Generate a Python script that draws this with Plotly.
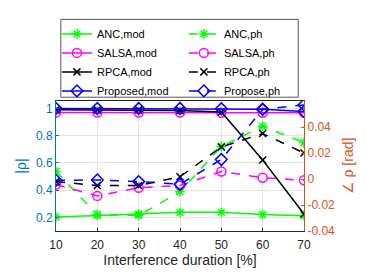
import plotly.graph_objects as go

x = [10, 20, 30, 40, 50, 60, 70]

anc_mod = [0.202, 0.216, 0.225, 0.237, 0.237, 0.221, 0.212]
salsa_mod = [0.970, 0.970, 0.970, 0.970, 0.968, 0.968, 0.968]
rpca_mod = [0.990, 0.990, 0.990, 0.985, 0.974, 0.622, 0.225]
prop_mod = [1.000, 1.000, 1.000, 1.000, 0.998, 0.995, 0.978]

anc_ph = [0.0058, -0.0275, -0.0280, -0.0099, 0.0250, 0.0405, 0.0280]
salsa_ph = [-0.0043, -0.0130, -0.0067, -0.0050, 0.0058, 0.0010, -0.0010]
rpca_ph = [-0.0020, -0.0050, -0.0050, 0.0017, 0.0246, 0.0350, 0.0200]
prop_ph = [-0.0010, -0.0007, -0.0020, -0.0040, 0.0150, 0.0535, 0.0570]

names = [("ANC,mod", "ANC,ph"), ("SALSA,mod", "SALSA,ph"),
         ("RPCA,mod", "RPCA,ph"), ("Proposed,mod", "Propose,ph")]
colors = ["#00FF00", "#FF00FF", "#000000", "#0000FF"]
symbols = ["asterisk-open", "circle-open", "x-thin-open", "diamond-open"]
sizes = [8, 9, 7, 9]
mods = [anc_mod, salsa_mod, rpca_mod, prop_mod]
phs = [anc_ph, salsa_ph, rpca_ph, prop_ph]

fig = go.Figure()
for i in range(4):
    fig.add_trace(go.Scatter(
        x=x, y=mods[i], name=names[i][0], mode="lines+markers",
        line=dict(color=colors[i], width=1.5),
        marker=dict(symbol=symbols[i], size=sizes[i], color=colors[i],
                    line=dict(color=colors[i], width=1.5)),
        yaxis="y", legend="legend"))
for i in range(4):
    fig.add_trace(go.Scatter(
        x=x, y=phs[i], name=names[i][1], mode="lines+markers",
        line=dict(color=colors[i], width=1.5, dash="dash"),
        marker=dict(symbol=symbols[i], size=sizes[i], color=colors[i],
                    line=dict(color=colors[i], width=1.5)),
        yaxis="y2", legend="legend2"))

# page body has an 8px default margin, so the figure is drawn 8px smaller
# and the plot area lands at page px x 48..304, y 95..232
def px_x(p):
    return (p - 48) / 256.0

def px_y(p):
    return 1 + (95 - p) / 137.0

leg_common = dict(orientation="v", xanchor="left", yanchor="top",
                  bgcolor="rgba(0,0,0,0)", borderwidth=0,
                  font=dict(size=11, color="#000000"), tracegroupgap=0)

fig.update_layout(
    width=358, height=266,
    margin=dict(l=40, r=62, t=87, b=42),
    paper_bgcolor="white", plot_bgcolor="white",
    font=dict(family="Liberation Sans, Arial, sans-serif", size=12, color="#262626"),
    showlegend=True,
    legend=dict(x=px_x(49), y=px_y(9), **leg_common),
    legend2=dict(x=px_x(180), y=px_y(9), **leg_common),
    shapes=[dict(type="rect", xref="paper", yref="paper",
                 x0=px_x(53), x1=px_x(298), y0=px_y(91), y1=px_y(9),
                 line=dict(color="#555555", width=1), fillcolor="white", layer="below")],
    xaxis=dict(range=[10, 70], tickvals=[10, 20, 30, 40, 50, 60, 70],
               showgrid=True, gridcolor="#e3e3e3", gridwidth=1,
               showline=True, linecolor="#262626", linewidth=1, mirror=True,
               ticks="inside", ticklen=3, tickcolor="#262626",
               ticklabelstandoff=3,
               tickfont=dict(size=12, color="#262626"),
               title=dict(text="Interference duration [%]", font=dict(size=14, color="#262626"),
                          standoff=0),
               zeroline=False),
    yaxis=dict(range=[0.1, 1.055], tickvals=[0.2, 0.4, 0.6, 0.8, 1.0],
               ticktext=["0.2", "0.4", "0.6", "0.8", "1"],
               showgrid=True, gridcolor="#e3e3e3", gridwidth=1,
               showline=True, linecolor="#0072BD", linewidth=1,
               ticks="inside", ticklen=3, tickcolor="#0072BD",
               tickfont=dict(size=12, color="#0072BD"),
               title=dict(text="|ρ|", font=dict(size=14, color="#0072BD"), standoff=6),
               zeroline=False),
    yaxis2=dict(range=[-0.04, 0.06], tickvals=[-0.04, -0.02, 0, 0.02, 0.04],
                ticktext=["-0.04", "-0.02", "0", "0.02", "0.04"],
                overlaying="y", side="right", showgrid=False,
                showline=True, linecolor="#D95319", linewidth=1,
                ticks="inside", ticklen=3, tickcolor="#D95319",
                tickfont=dict(size=12, color="#D95319"),
                title=dict(text="∠ ρ [rad]", font=dict(size=14, color="#D95319"), standoff=9),
                zeroline=False),
)

fig.write_html("out.html")
